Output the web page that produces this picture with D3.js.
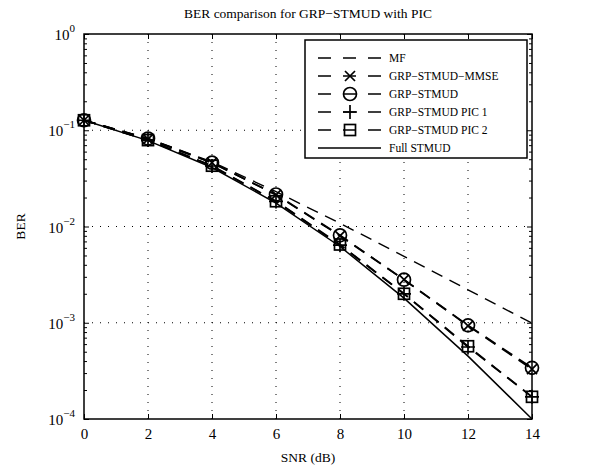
<!DOCTYPE html>
<html>
<head>
<meta charset="utf-8">
<script src="https://cdn.jsdelivr.net/npm/d3@7"></script>
<style>
  body { margin: 0; background: #fff; }
  text { font-family: "Liberation Serif", "DejaVu Serif", serif; fill: #000; }
</style>
</head>
<body>
<div id="chart"></div>
<script>
// data
var snr = [0, 2, 4, 6, 8, 10, 12, 14];
var berMF = [0.127, 0.082, 0.047, 0.023, 0.0108, 0.0049, 0.0022, 0.00099];
var berMMSE = [0.127, 0.081, 0.046, 0.0213, 0.0080, 0.0028, 0.00093, 0.00033];
var berGRP = [0.127, 0.082, 0.046, 0.0215, 0.0081, 0.0028, 0.00094, 0.00034];
var berPIC1 = [0.127, 0.079, 0.0425, 0.0182, 0.0064, 0.0020, 0.00056, 0.00017];
var berPIC2 = [0.127, 0.079, 0.0428, 0.0183, 0.0065, 0.0020, 0.00057, 0.00017];
var berFull = [0.127, 0.078, 0.041, 0.0175, 0.0062, 0.0018, 0.00045, 0.0001];

var seriesNames = ["MF", "GRP\u2212STMUD\u2212MMSE", "GRP\u2212STMUD", "GRP\u2212STMUD PIC 1", "GRP\u2212STMUD PIC 2", "Full STMUD"];
var xTicks = [0, 2, 4, 6, 8, 10, 12, 14];
var yExponents = [0, -1, -2, -3, -4];

var svgWidth = 589;
var svgHeight = 471;
var margin = { top: 34, right: 57, bottom: 52, left: 84 };
var width = svgWidth - margin.left - margin.right;
var height = svgHeight - margin.top - margin.bottom;

var svg = d3.select("#chart")
  .append("svg")
  .attr("width", svgWidth)
  .attr("height", svgHeight);

svg.append("rect").attr("width", svgWidth).attr("height", svgHeight).attr("fill", "#fff");

var chartGroup = svg.append("g")
  .attr("transform", `translate(${margin.left}, ${margin.top})`);

var xScale = d3.scaleLinear().domain([0, 14]).range([0, width]);
var yScale = d3.scaleLog().domain([1e-4, 1]).range([height, 0]);

// grid (dotted, at major ticks)
chartGroup.append("g")
  .selectAll("line")
  .data(xTicks.slice(1, -1))
  .enter()
  .append("line")
  .attr("x1", d => xScale(d)).attr("x2", d => xScale(d))
  .attr("y1", 0).attr("y2", height)
  .attr("stroke", "#000").attr("stroke-width", 1)
  .attr("stroke-dasharray", "1,7");

chartGroup.append("g")
  .selectAll("line")
  .data(yExponents.slice(1, -1))
  .enter()
  .append("line")
  .attr("x1", 0).attr("x2", width)
  .attr("y1", d => yScale(Math.pow(10, d))).attr("y2", d => yScale(Math.pow(10, d)))
  .attr("stroke", "#000").attr("stroke-width", 1)
  .attr("stroke-dasharray", "1,7");

// axes, ticks pointing inwards like matlab
var minorVals = [];
yExponents.slice(1).forEach(function(e) {
  for (var k = 2; k <= 9; k++) minorVals.push(k * Math.pow(10, e));
});

var bottomAxis = d3.axisBottom(xScale).tickValues(xTicks).tickSize(-5).tickPadding(9).tickFormat(d3.format("d"));
var topAxis = d3.axisTop(xScale).tickValues(xTicks).tickSize(-5).tickFormat("");
var leftAxis = d3.axisLeft(yScale).tickValues(yExponents.map(e => Math.pow(10, e))).tickSize(-5).tickFormat("");
var rightAxis = d3.axisRight(yScale).tickValues(yExponents.map(e => Math.pow(10, e))).tickSize(-5).tickFormat("");
var leftMinor = d3.axisLeft(yScale).tickValues(minorVals).tickSize(-3).tickFormat("");
var rightMinor = d3.axisRight(yScale).tickValues(minorVals).tickSize(-3).tickFormat("");

function styleAxis(g) {
  g.select(".domain").remove();
  g.selectAll("line").attr("stroke", "#000");
  g.selectAll("text").style("font-size", "15px");
}

chartGroup.append("g").attr("transform", `translate(0, ${height})`).call(bottomAxis).call(styleAxis);
chartGroup.append("g").call(topAxis).call(styleAxis);
chartGroup.append("g").call(leftAxis).call(styleAxis);
chartGroup.append("g").attr("transform", `translate(${width}, 0)`).call(rightAxis).call(styleAxis);
chartGroup.append("g").call(leftMinor).call(styleAxis);
chartGroup.append("g").attr("transform", `translate(${width}, 0)`).call(rightMinor).call(styleAxis);

// y tick labels 10^n
var yLabels = chartGroup.append("g")
  .selectAll("text")
  .data(yExponents)
  .enter()
  .append("text")
  .attr("x", -9)
  .attr("y", d => yScale(Math.pow(10, d)) + 6)
  .attr("text-anchor", "end")
  .style("font-size", "15px");
yLabels.append("tspan").text("10");
yLabels.append("tspan")
  .attr("dy", -8)
  .style("font-size", "11px")
  .text(d => d === 0 ? "0" : "\u2212" + Math.abs(d));

// plot box
chartGroup.append("rect")
  .attr("width", width).attr("height", height)
  .attr("fill", "none").attr("stroke", "#000").attr("stroke-width", 1.5);

// series
var series = [
  { name: seriesNames[0], values: berMF, dash: "12,8", marker: "none", w: 1.4 },
  { name: seriesNames[1], values: berMMSE, dash: "12,8", marker: "x", w: 1.7 },
  { name: seriesNames[2], values: berGRP, dash: "12,8", marker: "o", w: 1.7 },
  { name: seriesNames[3], values: berPIC1, dash: "12,8", marker: "+", w: 1.7 },
  { name: seriesNames[4], values: berPIC2, dash: "12,8", marker: "s", w: 1.7 },
  { name: seriesNames[5], values: berFull, dash: null, marker: "none", w: 1.5 }
];

var line = d3.line()
  .x((d, i) => xScale(snr[i]))
  .y(d => yScale(d));

function drawMarker(g, type, cx, cy) {
  if (type === "o") {
    g.append("circle").attr("cx", cx).attr("cy", cy).attr("r", 6.5)
      .attr("fill", "none").attr("stroke", "#000").attr("stroke-width", 1.7);
  } else if (type === "x") {
    g.append("path").attr("d", `M${cx - 5},${cy - 5}L${cx + 5},${cy + 5}M${cx - 5},${cy + 5}L${cx + 5},${cy - 5}`)
      .attr("stroke", "#000").attr("stroke-width", 1.7);
  } else if (type === "+") {
    g.append("path").attr("d", `M${cx - 7},${cy}L${cx + 7},${cy}M${cx},${cy - 7}L${cx},${cy + 7}`)
      .attr("stroke", "#000").attr("stroke-width", 1.7);
  } else if (type === "s") {
    g.append("rect").attr("x", cx - 5.5).attr("y", cy - 5.5).attr("width", 11).attr("height", 11)
      .attr("fill", "none").attr("stroke", "#000").attr("stroke-width", 1.7);
  }
}

series.forEach(function(s) {
  chartGroup.append("path")
    .datum(s.values)
    .attr("d", line)
    .attr("fill", "none")
    .attr("stroke", "#000")
    .attr("stroke-width", s.w)
    .attr("stroke-dasharray", s.dash);
  var mg = chartGroup.append("g");
  s.values.forEach(function(v, i) {
    drawMarker(mg, s.marker, xScale(snr[i]), yScale(v));
  });
});

// legend
var legend = svg.append("g").attr("transform", "translate(305, 40)");
legend.append("rect")
  .attr("width", 222).attr("height", 118)
  .attr("fill", "#fff").attr("stroke", "#000").attr("stroke-width", 1.5);

series.forEach(function(s, i) {
  var ly = 18 + i * 18;
  legend.append("line")
    .attr("x1", 13).attr("x2", 76)
    .attr("y1", ly).attr("y2", ly)
    .attr("stroke", "#000").attr("stroke-width", 1.7)
    .attr("stroke-dasharray", s.dash ? "13,12" : null);
  drawMarker(legend, s.marker, 45, ly);
  legend.append("text")
    .attr("x", 84).attr("y", ly + 4)
    .style("font-size", "11.5px")
    .text(s.name);
});

// title and axis labels
svg.append("text")
  .attr("x", margin.left + width / 2).attr("y", 18)
  .attr("text-anchor", "middle")
  .style("font-size", "13.5px")
  .text("BER comparison for GRP\u2212STMUD with PIC");

svg.append("text")
  .attr("x", margin.left + width / 2).attr("y", svgHeight - 9)
  .attr("text-anchor", "middle")
  .style("font-size", "13.5px")
  .text("SNR (dB)");

svg.append("text")
  .attr("transform", `translate(25, ${margin.top + height / 2}) rotate(-90)`)
  .attr("text-anchor", "middle")
  .style("font-size", "13.5px")
  .text("BER");
</script>
</body>
</html>
